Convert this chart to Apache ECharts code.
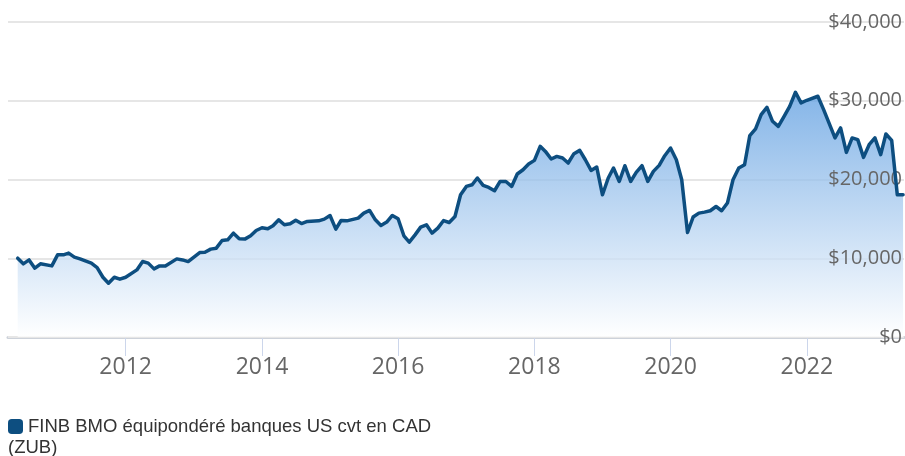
<!DOCTYPE html>
<html>
<head>
<meta charset="utf-8">
<script src="https://cdn.jsdelivr.net/npm/echarts@6/dist/echarts.min.js"></script>
<style>
  html, body { margin: 0; padding: 0; background: #fff; }
  #chart { width: 905px; height: 456px; }
</style>
</head>
<body>
<div id="chart"></div>
<script>
// Growth of a $10,000 investment, monthly closes
const seriesName = 'FINB BMO équipondéré banques US cvt en CAD\n(ZUB)';

const dates = [
  '2010-06', '2010-07', '2010-08', '2010-09', '2010-10', '2010-12',
  '2011-01', '2011-02', '2011-03', '2011-04', '2011-05', '2011-07', '2011-08', '2011-09', '2011-10', '2011-11', '2011-12',
  '2012-01', '2012-03', '2012-04', '2012-05', '2012-06', '2012-07', '2012-08', '2012-10', '2012-11', '2012-12',
  '2013-02', '2013-03', '2013-04', '2013-05', '2013-06', '2013-07', '2013-08', '2013-09', '2013-10', '2013-11', '2013-12',
  '2014-01', '2014-02', '2014-03', '2014-04', '2014-05', '2014-06', '2014-07', '2014-08', '2014-09', '2014-11', '2014-12',
  '2015-01', '2015-02', '2015-03', '2015-04', '2015-06', '2015-07', '2015-08', '2015-09', '2015-10', '2015-11', '2015-12',
  '2016-01', '2016-02', '2016-03', '2016-04', '2016-05', '2016-06', '2016-07', '2016-08', '2016-09', '2016-10', '2016-11', '2016-12',
  '2017-01', '2017-02', '2017-03', '2017-04', '2017-05', '2017-06', '2017-07', '2017-08', '2017-09', '2017-10', '2017-11', '2017-12',
  '2018-01', '2018-02', '2018-03', '2018-04', '2018-05', '2018-06', '2018-07', '2018-08', '2018-09', '2018-10', '2018-11', '2018-12',
  '2019-01', '2019-02', '2019-03', '2019-04', '2019-05', '2019-06', '2019-07', '2019-08', '2019-09', '2019-10', '2019-11', '2019-12',
  '2020-01', '2020-02', '2020-03', '2020-04', '2020-05', '2020-06', '2020-07', '2020-08', '2020-09', '2020-10', '2020-11', '2020-12',
  '2021-01', '2021-02', '2021-03', '2021-04', '2021-05', '2021-06', '2021-07', '2021-08', '2021-09', '2021-10', '2021-11', '2021-12',
  '2022-01', '2022-03', '2022-04', '2022-06', '2022-07', '2022-08', '2022-09', '2022-10', '2022-11', '2022-12',
  '2023-01', '2023-02', '2023-03', '2023-04', '2023-05', '2023-06'
];

const values = [
  10010, 9290, 9790, 8740, 9290, 9030,
  10430, 10430, 10650, 10140, 9920, 9380, 8820, 7590, 6830, 7590, 7340,
  7590, 8520, 9580, 9380, 8650, 9030, 9030, 9920, 9790, 9580,
  10720, 10770, 11160, 11280, 12250, 12340, 13190, 12470, 12430, 12850, 13520,
  13870, 13740, 14120, 14880, 14250, 14370, 14820, 14400, 14670, 14750, 14970,
  15430, 13700, 14790, 14750, 15100, 15730, 16070, 14880, 14160, 14590, 15430,
  15010, 12850, 12050, 12970, 13950, 14250, 13190, 13830, 14790, 14540, 15300, 18060,
  19120, 19330, 20190, 19250, 18990, 18570, 19750, 19750, 19120, 20700, 21240, 21970,
  22430, 24210, 23570, 22600, 22930, 22730, 22090, 23280, 23700, 22510, 21150, 21590,
  18060, 20190, 21460, 19750, 21750, 19750, 20900, 21750, 19750, 21030, 21790, 23020,
  24000, 22510, 19970, 13270, 15230, 15730, 15860, 16030, 16570, 16030, 17010, 19970,
  21460, 21880, 25570, 26420, 28240, 29170, 27390, 26750, 28020, 29290, 31080, 29730,
  30060, 30570, 28870, 25280, 26550, 23440, 25280, 25060, 22810, 24420,
  25280, 23150, 25780, 24970, 18060, 18060
];

// Labelled years on the time axis
const tickYears = ['2012', '2014', '2016', '2018', '2020', '2022'];

// Visible date span of the plot
const xStart = '2010-04-10';
const xEnd = '2023-06-06';

// Value axis
const yMin = 0;
const yMax = 40000;
const yStep = 10000;

const lineColor = '#0d4e80';
const legendFont = 'Liberation Sans, Arial, sans-serif';
const legendSize = 18.5;

// 'YYYY-MM' or 'YYYY-MM-DD' -> UTC milliseconds
function toTime(s) {
  const p = s.split('-').map(Number);
  return Date.UTC(p[0], (p[1] || 1) - 1, p[2] || 1);
}

const yearTicks = tickYears.map(y => toTime(y));
const nameLines = seriesName.split('\n');

const chart = echarts.init(document.getElementById('chart'), null, { renderer: 'canvas' });

chart.setOption({
  animation: false,
  backgroundColor: '#ffffff',
  grid: { left: 8, right: 0, top: 22, bottom: 119, containLabel: false },
  legend: {
    left: 8,
    top: 417,
    padding: 0,
    icon: 'roundRect',
    itemWidth: 15,
    itemHeight: 15,
    itemGap: 6,
    selectedMode: false,
    formatter: name => name.split('\n')[0],
    textStyle: {
      fontFamily: legendFont,
      fontSize: legendSize,
      color: '#333333'
    },
    data: [{ name: seriesName, itemStyle: { color: lineColor } }]
  },
  // the legend label wraps onto a second line under the swatch
  graphic: [{
    type: 'text',
    left: 8,
    top: 438,
    silent: true,
    style: {
      text: nameLines[1],
      font: legendSize + 'px ' + legendFont,
      fill: '#333333'
    }
  }],
  xAxis: {
    type: 'value',
    min: toTime(xStart),
    max: toTime(xEnd),
    splitLine: { show: false },
    axisLine: { show: true, onZero: false, lineStyle: { color: '#cdd2da', width: 3 } },
    axisTick: {
      show: true,
      length: 19,
      lineStyle: { color: '#ccd6eb', width: 1 },
      customValues: yearTicks
    },
    axisLabel: {
      customValues: yearTicks,
      formatter: v => String(new Date(v).getUTCFullYear()),
      fontFamily: 'Open Sans, sans-serif',
      fontSize: 23,
      color: '#666666',
      margin: 19
    }
  },
  yAxis: {
    type: 'value',
    position: 'right',
    min: yMin,
    max: yMax,
    interval: yStep,
    z: 3,
    axisLine: { show: false },
    axisTick: { show: false },
    splitLine: { show: true, lineStyle: { color: '#e6e6e6', width: 2 } },
    axisLabel: {
      inside: true,
      margin: 2,
      fontFamily: 'Open Sans, sans-serif',
      fontSize: 20,
      color: '#666666',
      formatter: v => '$' + v.toLocaleString('en-US')
    }
  },
  series: [{
    name: seriesName,
    type: 'line',
    data: dates.map((d, i) => [toTime(d), values[i]]),
    showSymbol: false,
    symbol: 'none',
    lineStyle: { color: lineColor, width: 3.5, join: 'round', cap: 'round' },
    itemStyle: { color: lineColor },
    areaStyle: {
      opacity: 0.75,
      color: new echarts.graphic.LinearGradient(0, 0, 0, 1, [
        { offset: 0, color: '#5b9ce0' },
        { offset: 1, color: '#ffffff' }
      ])
    }
  }]
});
</script>
</body>
</html>
